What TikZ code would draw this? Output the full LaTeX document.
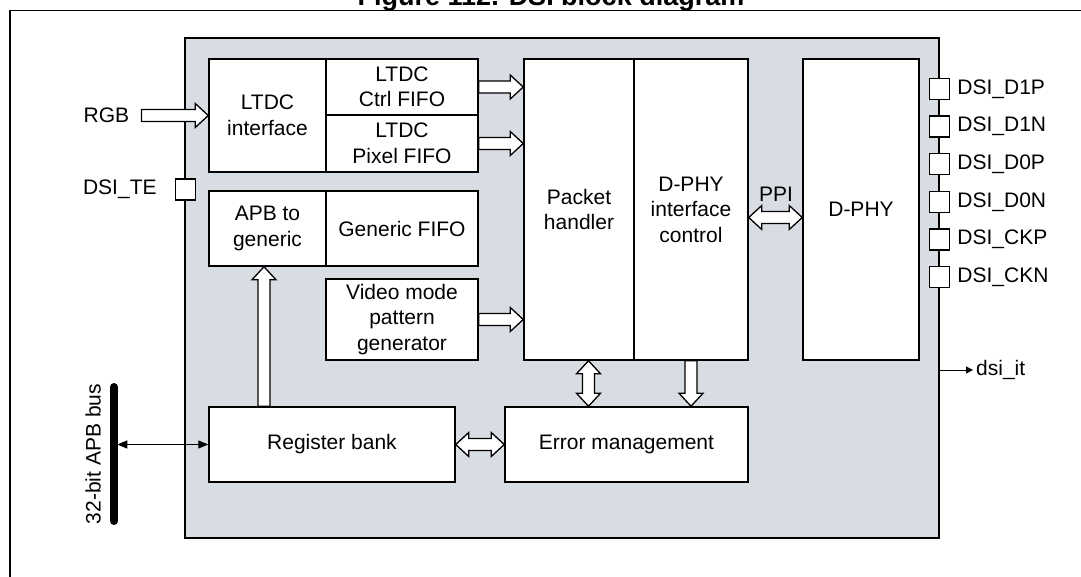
\documentclass[tikz,border=0pt]{standalone}
\usepackage{fontspec}
\setmainfont{Liberation Sans}
\usetikzlibrary{calc,arrows.meta}
\definecolor{graybg}{RGB}{216,220,227}
\newcommand\bodyfont{\fontsize{21}{25.5}\selectfont}
\def\aw{6pt}
\def\ah{12pt}
\def\al{13pt}
\tikzset{
  blk/.style={draw, fill=white, line width=1.5pt, align=center, inner sep=0pt, font=\bodyfont},
  harrow/.style={draw, fill=white, line width=1.3pt, line join=miter},
  pinbox/.style={draw, fill=white, line width=1.4pt, minimum width=20pt, minimum height=21pt, inner sep=0pt},
  lbl/.style={inner sep=1pt, font=\bodyfont},
  sig/.style={line width=1pt},
}
\newcommand\sarrow[2]{%
  \path ($(#2)!\al!(#1)$) coordinate (tmpB);
  \draw[harrow] ($(#1)!\aw!90:(#2)$) -- ($(tmpB)!\aw!90:(#2)$) -- ($(tmpB)!\ah!90:(#2)$) -- (#2)
    -- ($(tmpB)!\ah!-90:(#2)$) -- ($(tmpB)!\aw!-90:(#2)$) -- ($(#1)!\aw!-90:(#2)$) -- cycle;}
\newcommand\darrow[2]{%
  \path ($(#1)!\al!(#2)$) coordinate (tmpA) ($(#2)!\al!(#1)$) coordinate (tmpB);
  \draw[harrow] (#2) -- ($(tmpB)!\ah!90:(#2)$) -- ($(tmpB)!\aw!90:(#2)$) -- ($(tmpA)!\aw!90:(#2)$)
    -- ($(tmpA)!\ah!90:(#2)$) -- (#1) -- ($(tmpA)!\ah!-90:(#2)$) -- ($(tmpA)!\aw!-90:(#2)$)
    -- ($(tmpB)!\aw!-90:(#2)$) -- ($(tmpB)!\ah!-90:(#2)$) -- cycle;}
\begin{document}
\begin{tikzpicture}[x=1pt,y=-1pt]
\useasboundingbox (0,0) rectangle (1081,576);
\clip (0,0) rectangle (1081,576);
% title and frame
\node[font=\bfseries\fontsize{27}{31}\selectfont, anchor=base, inner sep=0pt] (title) at (551,5.5) {Figure 112. DSI block diagram};
\draw[line width=1.6pt] (10,580) -- (10,10.5) -- (1085,10.5);
% grey block
\draw[line width=2.5pt, fill=graybg] (185,38) rectangle (939,538);
% blocks
\node[blk, minimum width=117pt, minimum height=113pt] (ltdcif) at (267.5,115.5) {LTDC\\interface};
\node[blk, minimum width=152pt, minimum height=56pt] (ctrl) at (402,87) {LTDC\\Ctrl FIFO};
\node[blk, minimum width=152pt, minimum height=57pt] (pixel) at (402,143.5) {LTDC\\Pixel FIFO};
\node[blk, minimum width=117pt, minimum height=75pt] (apbgen) at (267.5,228.5) {APB to\\generic};
\node[blk, minimum width=152pt, minimum height=75pt] (genfifo) at (402,228.5) {Generic FIFO};
\node[blk, minimum width=152pt, minimum height=81pt] (video) at (402,319.5) {Video mode\\pattern\\generator};
\node[blk, minimum width=110pt, minimum height=301pt] (packet) at (579,209.5) {Packet\\handler};
\node[blk, minimum width=114pt, minimum height=301pt] (dphyctrl) at (691,209.5) {D-PHY\\interface\\control};
\node[blk, minimum width=116pt, minimum height=301pt] (dphy) at (861,209.5) {D-PHY};
\node[blk, minimum width=246pt, minimum height=75pt] (regbank) at (332,444.5) {Register bank};
\node[blk, minimum width=243pt, minimum height=75pt] (errmgmt) at (626.5,444.5) {Error management};
% RGB input
\node[lbl] (rgb) at (106.5,115.5) {RGB};
\path (rgb.east) ++(11,0) coordinate (rgbtail);
\sarrow{rgbtail}{ltdcif.west}
% FIFO arrows
\path (packet.west |- ctrl.east) coordinate (ctrlin);
\sarrow{ctrl.east}{ctrlin}
\path (packet.west |- pixel.east) coordinate (pixin);
\sarrow{pixel.east}{pixin}
\path (packet.west |- video.east) coordinate (vidin);
\sarrow{video.east}{vidin}
% PPI
\path (dphyctrl.east) ++(0,8) coordinate (ppia);
\path (dphy.west |- ppia) coordinate (ppib);
\darrow{ppia}{ppib}
\node[lbl] (ppi) at (776,194) {PPI};
% register bank to APB to generic
\path (apbgen.south) ++(-3.5,0) coordinate (apbin);
\path (apbin |- regbank.north) coordinate (regout);
\sarrow{regout}{apbin}
% register bank <-> error management
\darrow{regbank.east}{errmgmt.west}
% packet handler <-> error management
\path (packet.south) ++(9.5,0) coordinate (pka);
\path (pka |- errmgmt.north) coordinate (pkb);
\darrow{pka}{pkb}
% D-PHY ctrl -> error management
\path (dphyctrl.south |- errmgmt.north) coordinate (dcb);
\sarrow{dphyctrl.south}{dcb}
% pins
\node[pinbox] (te) at (185.5,189.5) {};
\node[lbl, anchor=east] (tel) at ($(te.west)+(-17,0)$) {DSI\_TE};
\foreach \n [count=\i from 0] in {D1P,D1N,D0P,D0N,CKP,CKN} {
  \node[pinbox] (p\n) at (939.5,{89+37.6*\i}) {};
  \node[lbl, anchor=west] (l\n) at ($(p\n.east)+(6,0)$) {DSI\_\n};
}
% dsi_it
\coordinate (itsrc) at (939,370);
\node[lbl, anchor=west] (itl) at (975,370) {dsi\_it};
\draw[sig, -{Triangle[length=7pt,width=7pt]}] (itsrc) -- ($(itl.west)+(-2,0)$);
% APB bus
\coordinate (bustop) at (114,387);
\coordinate (busbot) at (114,521);
\draw[line width=8pt, line cap=round] (bustop) -- (busbot);
\node[lbl, rotate=90] (buslbl) at (93,454) {32-bit APB bus};
\path (regbank.west) ++(-91,0) coordinate (busin);
\draw[sig, {Triangle[length=10pt,width=8pt]}-{Triangle[length=10pt,width=8pt]}] (busin) -- (regbank.west);
\end{tikzpicture}
\end{document}
